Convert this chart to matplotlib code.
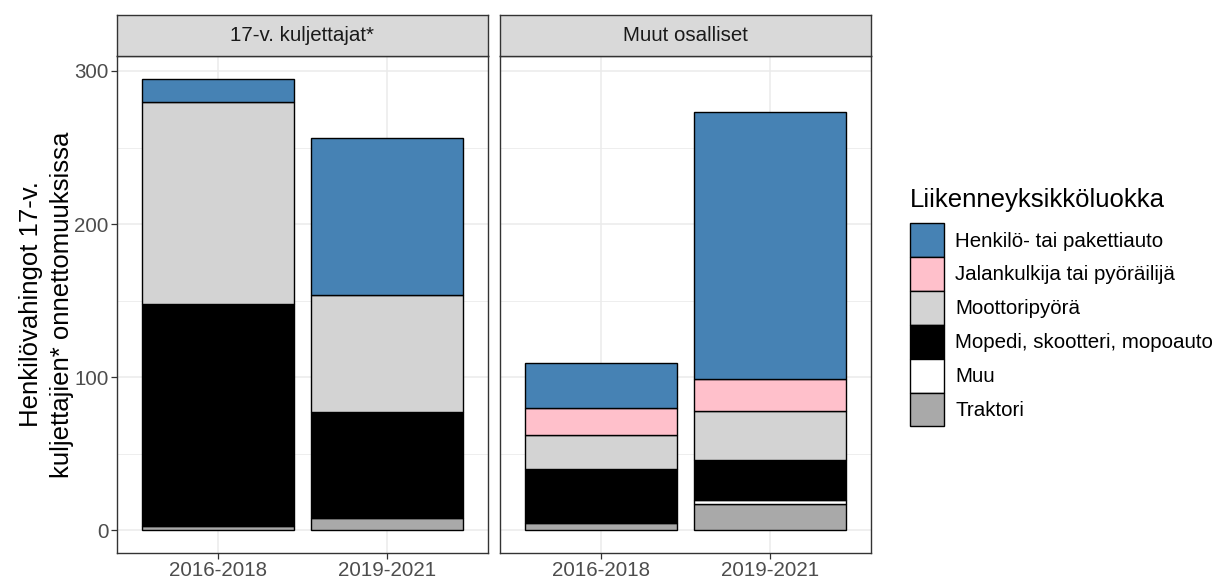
import matplotlib
matplotlib.use('Agg')
import matplotlib.pyplot as plt
from matplotlib.patches import Patch
import numpy as np

plt.rcParams['font.family'] = ['Liberation Sans', 'DejaVu Sans']

jaksot = ['2016-2018', '2019-2021']
paneelit = ['17-v. kuljettajat*', 'Muut osalliset']
luokat = ['Henkilö- tai pakettiauto', 'Jalankulkija tai pyöräilijä', 'Moottoripyörä',
          'Mopedi, skootteri, mopoauto', 'Muu', 'Traktori']
varit = ['#4682B4', '#FFC0CB', '#D3D3D3', '#000000', '#FFFFFF', '#A9A9A9']

# arvot: luokka -> [2016-2018, 2019-2021]
kuljettajat = {
    'Traktori': [3, 8],
    'Muu': [0, 0],
    'Mopedi, skootteri, mopoauto': [145, 69],
    'Moottoripyörä': [132, 77],
    'Jalankulkija tai pyöräilijä': [0, 0],
    'Henkilö- tai pakettiauto': [15, 102],
}
muut = {
    'Traktori': [5, 17],
    'Muu': [0, 3],
    'Mopedi, skootteri, mopoauto': [35, 26],
    'Moottoripyörä': [22, 32],
    'Jalankulkija tai pyöräilijä': [18, 21],
    'Henkilö- tai pakettiauto': [29, 174],
}
aineistot = [kuljettajat, muut]

PIENI = 14.8
ISO = 18.5

fig = plt.figure(figsize=(12.22, 5.83), dpi=100)
W, H = 1222, 583
ax_x = [117, 500]
ax_w = 371
ax_top, ax_bot = 56, 553

ymax = max(np.sum([v for v in d.values()], axis=0).max() for d in aineistot)
ylim = (-0.05 * ymax, 1.05 * ymax)

akselit = []
for i, (nimi, data) in enumerate(zip(paneelit, aineistot)):
    ax = fig.add_axes([ax_x[i] / W, 1 - ax_bot / H, ax_w / W, (ax_bot - ax_top) / H])
    akselit.append(ax)
    x = np.arange(1, len(jaksot) + 1)
    pohja = np.zeros(len(jaksot))
    for luokka in luokat[::-1]:
        arvot = np.array(data[luokka], dtype=float)
        col = varit[luokat.index(luokka)]
        mask = arvot > 0
        ax.bar(x[mask], arvot[mask], bottom=pohja[mask], width=0.9, color=col,
               edgecolor='black', linewidth=1.0, zorder=3)
        pohja += arvot
    ax.set_xlim(0.4, 2.6)
    ax.set_ylim(*ylim)
    ax.set_xticks(x)
    ax.set_xticklabels(jaksot)
    ax.set_yticks([0, 100, 200, 300])
    ax.set_yticks([50, 150, 250], minor=True)
    ax.grid(True, which='major', color='#EBEBEB', linewidth=1.1, zorder=0)
    ax.grid(True, which='minor', axis='y', color='#EBEBEB', linewidth=0.6, zorder=0)
    ax.tick_params(axis='both', which='major', labelsize=PIENI, labelcolor='#4D4D4D',
                   color='#333333', length=4, width=0.9, pad=2)
    ax.tick_params(axis='both', which='minor', length=0)
    for s in ax.spines.values():
        s.set_color('#333333')
        s.set_linewidth(1.0)
    if i > 0:
        ax.tick_params(axis='y', which='both', left=False, labelleft=False)
    # otsikkolaatikko
    strip = fig.add_axes([ax_x[i] / W, 1 - ax_top / H, ax_w / W, 41 / H])
    strip.set_facecolor('#D9D9D9')
    strip.set_xticks([])
    strip.set_yticks([])
    for s in strip.spines.values():
        s.set_color('#333333')
        s.set_linewidth(1.0)
    strip.text(0.5, 0.5, nimi, ha='center', va='center', fontsize=PIENI, color='#1A1A1A',
               transform=strip.transAxes)

akselit[0].set_ylabel('Henkilövahingot 17-v.\nkuljettajien* onnettomuuksissa',
                      fontsize=ISO, color='black', labelpad=0, linespacing=1.4)

kahvat = [Patch(facecolor=c, edgecolor='black', linewidth=1.0) for c in varit]
leg = fig.legend(kahvat, luokat, title='Liikenneyksikköluokka', loc='upper left',
                 bbox_to_anchor=(910 / W, 1 - 188 / H), frameon=False, fontsize=PIENI,
                 title_fontsize=ISO, handlelength=1.65, handleheight=2.16, labelspacing=0.0,
                 handletextpad=0.55, alignment='left', borderaxespad=0, borderpad=0)
leg._legend_box.sep = 8

fig.savefig('out.png', dpi=100)
